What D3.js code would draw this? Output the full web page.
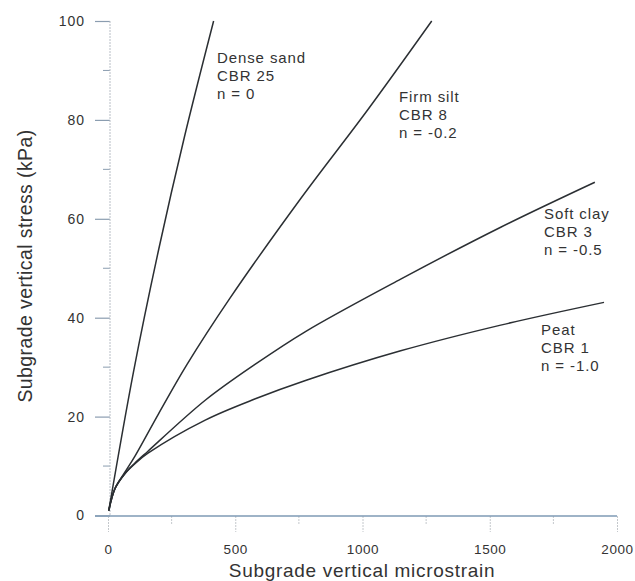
<!DOCTYPE html>
<html>
<head>
<meta charset="utf-8">
<script src="https://cdn.jsdelivr.net/npm/d3@7"></script>
<style>
  html, body { margin: 0; padding: 0; background: #fff; }
  svg { display: block; }
  text { font-family: "Liberation Sans", Arial, Helvetica, sans-serif; fill: #333; }
</style>
</head>
<body>
<svg id="chart" width="635" height="581"></svg>
<script>
// ---- data ----
const xTicks = [0, 500, 1000, 1500, 2000];
const xMinorTicks = [250, 750, 1250, 1750];
const yTicks = [0, 20, 40, 60, 80, 100];
const yMinorTicks = [10, 30, 50, 70, 90];

const denseSandStrain = [3, 100, 200, 300, 415];
const denseSandStress = [1, 29, 54, 76.5, 100];

const firmSiltStrain = [3, 28, 67, 106, 198, 310, 480, 756, 1020, 1272];
const firmSiltStress = [1, 5.5, 8.8, 12, 20.5, 30.5, 44, 64, 82, 100];

const softClayStrain = [3, 28, 67, 106, 157, 382, 579, 776, 1150, 1543, 1913];
const softClayStress = [1, 5.5, 8.5, 10.6, 13, 23.3, 30.6, 37.2, 47.8, 58.3, 67.4];

const peatStrain = [3, 28, 67, 106, 157, 382, 579, 776, 1150, 1543, 1949];
const peatStress = [1, 5.5, 8.5, 10.5, 12.6, 19.3, 23.6, 27.3, 33.3, 38.5, 43.1];

const seriesNames = ["Dense sand", "Firm silt", "Soft clay", "Peat"];
const seriesLabels = [
  ["Dense sand", "CBR 25", "n = 0"],
  ["Firm silt", "CBR 8", "n = -0.2"],
  ["Soft clay", "CBR 3", "n = -0.5"],
  ["Peat", "CBR 1", "n = -1.0"]
];

const xTitle = "Subgrade vertical microstrain";
const yTitle = "Subgrade vertical stress (kPa)";

// ---- build ----
const series = [
  { strain: denseSandStrain, stress: denseSandStress, label: seriesLabels[0], lx: 217, ly: 63 },
  { strain: firmSiltStrain, stress: firmSiltStress, label: seriesLabels[1], lx: 399, ly: 102 },
  { strain: softClayStrain, stress: softClayStress, label: seriesLabels[2], lx: 544, ly: 219 },
  { strain: peatStrain, stress: peatStress, label: seriesLabels[3], lx: 541, ly: 335 }
];

const svg = d3.select("#chart");
const x = d3.scaleLinear().domain([0, 2000]).range([108, 617]);
const y = d3.scaleLinear().domain([0, 100]).range([515.5, 21]);

const axisColor = "#8b9db0";

// Y axis
const yAxisX = 110;
const gy = svg.append("g").attr("transform", `translate(${yAxisX},0)`)
  .call(d3.axisLeft(y).tickValues(yTicks).tickSize(15).tickPadding(10).tickFormat(d3.format("d")));
gy.select(".domain").remove();
gy.selectAll(".tick line").attr("stroke", axisColor).attr("stroke-width", 1.2);
gy.selectAll(".tick text").style("font-size", "14px").style("letter-spacing", "1px")
  .attr("fill", "#333").attr("font-family", null);
svg.append("g").selectAll("line").data(yMinorTicks).join("line")
  .attr("x1", yAxisX - 7).attr("x2", yAxisX)
  .attr("y1", d => y(d)).attr("y2", d => y(d))
  .attr("stroke", axisColor).attr("stroke-width", 1);
svg.append("line")
  .attr("x1", yAxisX).attr("x2", yAxisX)
  .attr("y1", y(100)).attr("y2", y(0))
  .attr("stroke", "#b8bec6").attr("stroke-width", 1).attr("stroke-dasharray", "2,1");

// X axis
const xAxisY = 516;
const gx = svg.append("g").attr("transform", `translate(0,${xAxisY})`)
  .call(d3.axisBottom(x).tickValues(xTicks).tickSize(16).tickPadding(12).tickFormat(d3.format("d")));
gx.select(".domain").remove();
gx.selectAll(".tick line").attr("stroke", "#c4c8cc").attr("stroke-width", 1).attr("stroke-dasharray", "2,1");
gx.selectAll(".tick text").style("font-size", "13.5px").style("letter-spacing", "0.6px")
  .attr("fill", "#333").attr("font-family", null);
svg.append("g").selectAll("line").data(xMinorTicks).join("line")
  .attr("x1", d => x(d)).attr("x2", d => x(d))
  .attr("y1", xAxisY).attr("y2", xAxisY + 8)
  .attr("stroke", "#c4c8cc").attr("stroke-width", 1).attr("stroke-dasharray", "2,1");
svg.append("line")
  .attr("x1", 95).attr("x2", x(2000))
  .attr("y1", xAxisY).attr("y2", xAxisY)
  .attr("stroke", "#7e9ab4").attr("stroke-width", 1.6);

// Curves
const line = d3.line()
  .x(d => x(d[0]))
  .y(d => y(d[1]))
  .curve(d3.curveCatmullRom.alpha(0.5));

svg.append("g").selectAll("path").data(series).join("path")
  .attr("d", s => line(s.strain.map((v, i) => [v, s.stress[i]])))
  .attr("fill", "none")
  .attr("stroke", "#2b2f33")
  .attr("stroke-width", 1.5);

// Labels
series.forEach(s => {
  const t = svg.append("text")
    .attr("x", s.lx).attr("y", s.ly)
    .style("font-size", "15px").style("letter-spacing", "0.9px");
  s.label.forEach((txt, i) => {
    t.append("tspan").attr("x", s.lx).attr("y", s.ly + i * 18).text(txt);
  });
});

// Axis titles
svg.append("text")
  .attr("x", 362).attr("y", 577)
  .attr("text-anchor", "middle")
  .style("font-size", "19px").style("letter-spacing", "0.7px")
  .text(xTitle);

svg.append("text")
  .attr("transform", "translate(32,266) rotate(-90)")
  .attr("text-anchor", "middle")
  .style("font-size", "19.5px").style("letter-spacing", "0.4px")
  .text(yTitle);
</script>
</body>
</html>
